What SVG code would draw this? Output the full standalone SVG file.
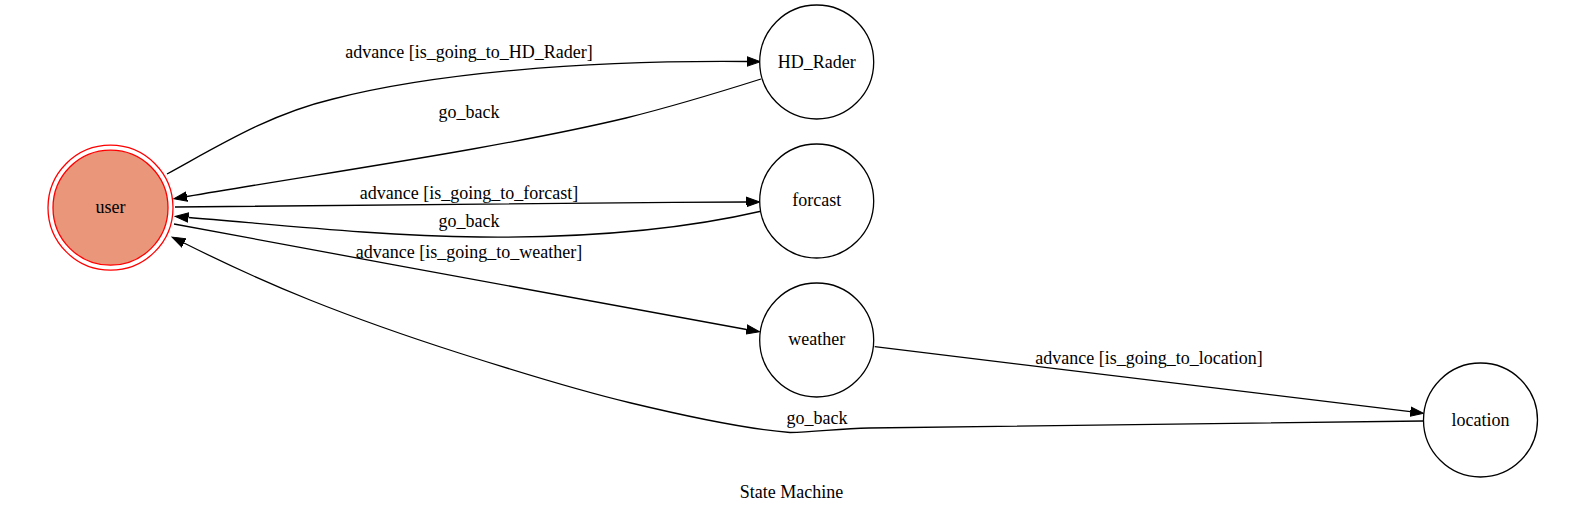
<svg xmlns="http://www.w3.org/2000/svg" width="1584" height="513" viewBox="0 0 1584 513">
<style>
text{font-family:"Liberation Serif","Times New Roman",serif;font-size:18px;fill:#000;text-anchor:middle}
.n{fill:#fff;stroke:#000;stroke-width:1.3}
.e{fill:none;stroke:#000;stroke-width:1.3}
</style>
<defs>
<marker id="arr" markerWidth="15" markerHeight="11" refX="0" refY="5.5" orient="auto" markerUnits="userSpaceOnUse">
<path d="M0,0.8 L13.3,5.5 L0,10.2 z" fill="#000" stroke="#000" stroke-width="1"/>
</marker>
</defs>
<rect width="1584" height="513" fill="#fff"/>
<g id="edges">
<path class="e" marker-end="url(#arr)" d="M167,174 C220,145 270,114 333,99 C430,74 580,60 747,61.5"/>
<path class="e" marker-end="url(#arr)" d="M761,79 C720,92 670,107 626,118 C500,148 330,172 187,196.5"/>
<path class="e" marker-end="url(#arr)" d="M175,207 C350,205 550,203 746.5,202"/>
<path class="e" marker-end="url(#arr)" d="M762,211 C680,230 580,238 480,237 C380,236 280,225 188.5,217.5"/>
<path class="e" marker-end="url(#arr)" d="M174,224 C360,258 600,304 746.5,329.5"/>
<path class="e" marker-end="url(#arr)" d="M874.7,346.7 L1410.3,411.7"/>
<path class="e" marker-end="url(#arr)" d="M1423,421 L869,428 C840,428.4 816,432 790,432.5 C745,429 681,415 631,403 C576,390 509,369 459,353 C409,337 360,320 310,300 C270,284 214,258 184,243"/>
<text x="469" y="58">advance [is_going_to_HD_Rader]</text>
<text x="469" y="118">go_back</text>
<text x="469" y="199">advance [is_going_to_forcast]</text>
<text x="469" y="227">go_back</text>
<text x="469" y="258">advance [is_going_to_weather]</text>
<text x="1149" y="364">advance [is_going_to_location]</text>
<text x="817" y="424">go_back</text>
</g>
<g id="user">
<circle cx="110.5" cy="207.7" r="62.5" fill="none" stroke="#ff0000" stroke-width="1.3"/>
<circle cx="110.5" cy="207.7" r="57.5" fill="#e9967a" stroke="#ff0000" stroke-width="1.3"/>
<text x="110.5" y="213">user</text>
</g>
<g id="HD_Rader">
<circle class="n" cx="816.7" cy="62" r="57"/>
<text x="816.7" y="68">HD_Rader</text>
</g>
<g id="forcast">
<circle class="n" cx="816.7" cy="201" r="57"/>
<text x="816.7" y="206">forcast</text>
</g>
<g id="weather">
<circle class="n" cx="816.7" cy="340" r="57"/>
<text x="816.7" y="345">weather</text>
</g>
<g id="location">
<circle class="n" cx="1480.5" cy="420" r="57"/>
<text x="1480.5" y="425.5">location</text>
</g>
<text x="791.6" y="497.5">State Machine</text>
</svg>
